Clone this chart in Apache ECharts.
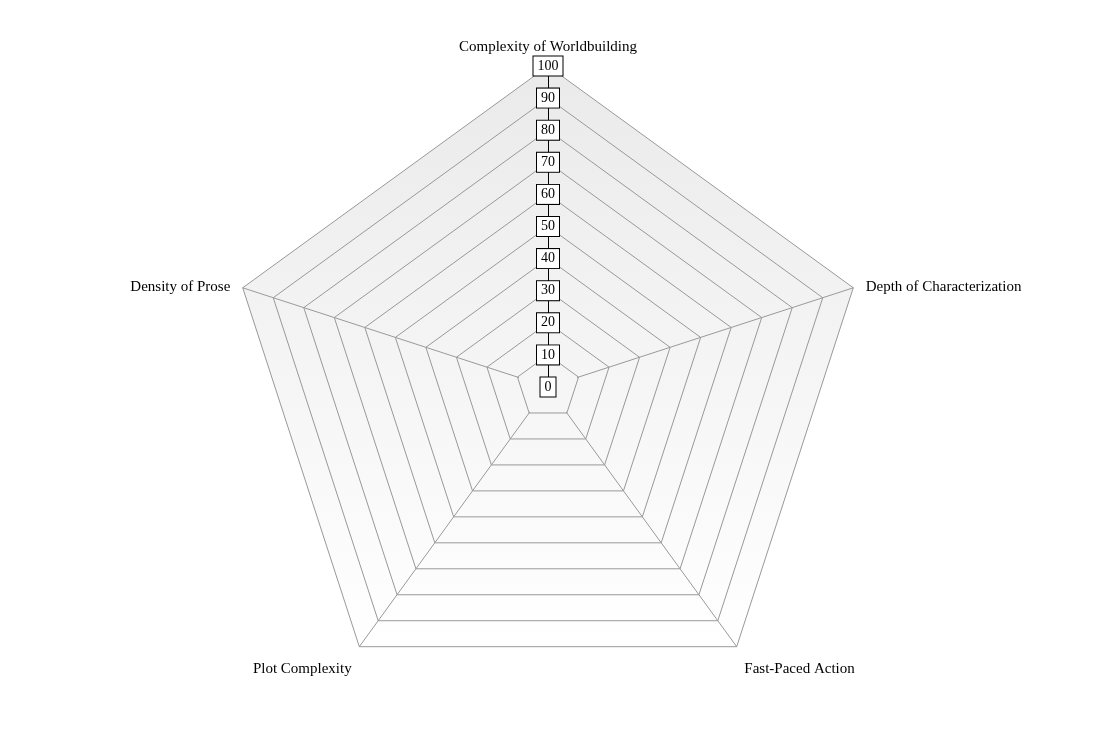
<!DOCTYPE html>
<html><head><meta charset="utf-8">
<script src="https://cdn.jsdelivr.net/npm/echarts@6/dist/echarts.min.js"></script>
<style>html,body{margin:0;padding:0;background:#fff}#c{width:1095px;height:743px}</style>
</head><body><div id="c"></div>
<script>
// indicators in ECharts (counter-clockwise from top) order
var indicatorNames = ['Complexity of Worldbuilding','Density of Prose','Plot Complexity','Fast-Paced Action','Depth of Characterization'];
var indicatorMax = [100,100,100,100,100];
var tickValues = [0,10,20,30,40,50,60,70,80,90,100];
var seriesValues = [];

var chart = echarts.init(document.getElementById('c'));
var FONT = '"Liberation Serif","Times New Roman",serif';
var nameStyleKey = ['t','s','b','b','s'];
var CX = 548, CY = 387, R = 321;
chart.setOption({
  backgroundColor: '#fff',
  animation: false,
  radar: {
    center: [CX, CY],
    radius: R,
    startAngle: 90,
    splitNumber: 10,
    shape: 'polygon',
    nameGap: 13,
    indicator: indicatorNames.map(function(n,i){return {name:n, min:0, max:indicatorMax[i]};}),
    axisName: {
      color:'#000', fontFamily: FONT, fontSize: 15,
      formatter: function(name){
        var i = indicatorNames.indexOf(name);
        return '{' + (nameStyleKey[i] || 't') + '|' + name + '}';
      },
      rich: {
        t: {color:'#000', fontFamily: FONT, fontSize: 15, lineHeight: 12},
        s: {color:'#000', fontFamily: FONT, fontSize: 15, padding:[6,0,0,0]},
        b: {color:'#000', fontFamily: FONT, fontSize: 15, padding:[23,0,0,0]}
      }
    },
    axisLine: {lineStyle:{width:1, color:{
      type:'radial', x:CX, y:CY, r:R, global:true,
      colorStops:[{offset:0,color:'rgba(153,153,153,0)'},{offset:0.095,color:'rgba(153,153,153,0)'},
                  {offset:0.096,color:'#999'},{offset:1,color:'#999'}]
    }}},
    splitLine: {lineStyle:{color:'#999', width:1}},
    splitArea: {show:true, areaStyle:{color:[{
      type:'linear', x:0, y:66, x2:0, y2:647, global:true,
      colorStops:[{offset:0,color:'#eaeaea'},{offset:1,color:'#ffffff'}]
    }]}},
    axisLabel: {show:false},
    axisTick: {show:false}
  },
  polar: {center: [CX, CY], radius: R, z: 5},
  angleAxis: {show:false, startAngle:90, min:0, max:360},
  radiusAxis: {
    min: 0, max: 100, interval: 10, z: 5,
    axisLine: {show:true, lineStyle:{color:'#000', width:1}},
    axisTick: {show:false},
    splitLine: {show:false},
    axisLabel: {
      show:true, margin:0, align:'center', verticalAlign:'middle',
      color:'#000', fontFamily: FONT, fontSize: 14,
      backgroundColor:'#fff', borderColor:'#000', borderWidth:1,
      padding:[3,4,2,4],
      formatter: function(v){ return tickValues.indexOf(v) >= 0 ? String(v) : ''; }
    }
  },
  series: [{type:'radar', radarIndex:0, data: seriesValues.length ? [{value: seriesValues}] : []}]
});
</script></body></html>
